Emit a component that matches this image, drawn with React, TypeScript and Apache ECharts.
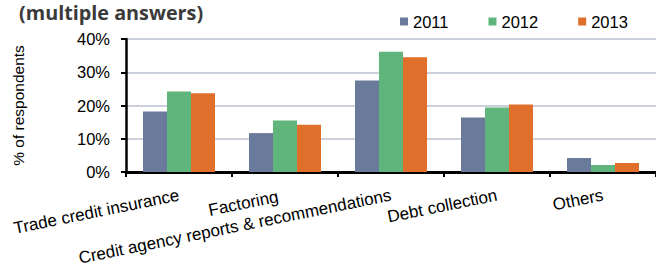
import React, { useEffect, useRef } from "react";
import * as echarts from "echarts";

const categories = [
  "Trade credit insurance",
  "Factoring",
  "Credit agency reports & recommendations",
  "Debt collection",
  "Others",
];
const years = ["2011", "2012", "2013"];
const values2011 = [18.2, 11.7, 27.5, 16.4, 4.2];
const values2012 = [24.2, 15.5, 36.2, 19.4, 2.1];
const values2013 = [23.7, 14.2, 34.5, 20.3, 2.7];
const yTicks = [0, 10, 20, 30, 40];
const colors = ["#6a7a9b", "#5fb57b", "#e06f2b"];

export default function App() {
  const ref = useRef<HTMLDivElement>(null);
  useEffect(() => {
    if (!ref.current) return;
    const chart = echarts.init(ref.current, undefined, { renderer: "svg" });
    const seriesData = [values2011, values2012, values2013];
    chart.setOption({
      animation: false,
      textStyle: { fontFamily: "Liberation Sans, Arial, sans-serif" },
      title: {
        text: "(multiple answers)",
        left: 14,
        top: -3,
        textStyle: {
          fontFamily: "Open Sans",
          fontWeight: 700,
          fontSize: 19.8,
          color: "#3a3a3a",
        },
      },
      legend: {
        data: years,
        left: 395,
        top: 8,
        icon: "rect",
        itemWidth: 8,
        itemHeight: 8,
        itemGap: 40,
        textStyle: { fontSize: 16.5, color: "#000" },
      },
      grid: { left: 126, right: -1, top: 39, bottom: 103, containLabel: false },
      xAxis: {
        type: "category",
        data: categories.map((c, i) =>
          i === 1 ? { value: c, textStyle: { padding: [0, 7, 0, 0] } } : c
        ),
        axisLine: { show: true, lineStyle: { color: "#000", width: 3 } },
        axisTick: { show: true, length: 5, lineStyle: { color: "#000", width: 2 } },
        axisLabel: {
          interval: 0,
          rotate: 11.5,
          margin: 23,
          fontSize: 17,
          color: "#000",
        },
        splitLine: { show: false },
      },
      yAxis: {
        type: "value",
        min: yTicks[0],
        max: yTicks[yTicks.length - 1],
        interval: 10,
        name: "% of respondents",
        nameLocation: "middle",
        nameRotate: 90,
        nameGap: 100,
        nameTextStyle: { fontSize: 15.5, color: "#000" },
        axisLine: { show: true, lineStyle: { color: "#000", width: 2.5 } },
        axisTick: { show: true, length: 5, lineStyle: { color: "#000", width: 2 } },
        axisLabel: {
          formatter: "{value}%",
          fontSize: 16.5,
          color: "#000",
          margin: 16,
        },
        splitLine: { show: true, lineStyle: { color: "#ccd0dc", width: 2 } },
      },
      series: years.map((y, i) => ({
        name: y,
        type: "bar",
        data: seriesData[i],
        barWidth: 24,
        barGap: "0%",
        itemStyle: { color: colors[i] },
      })),
    });
    return () => chart.dispose();
  }, []);
  return <div ref={ref} style={{ width: 656, height: 275, position: "absolute", left: 0, top: 0 }} />;
}
